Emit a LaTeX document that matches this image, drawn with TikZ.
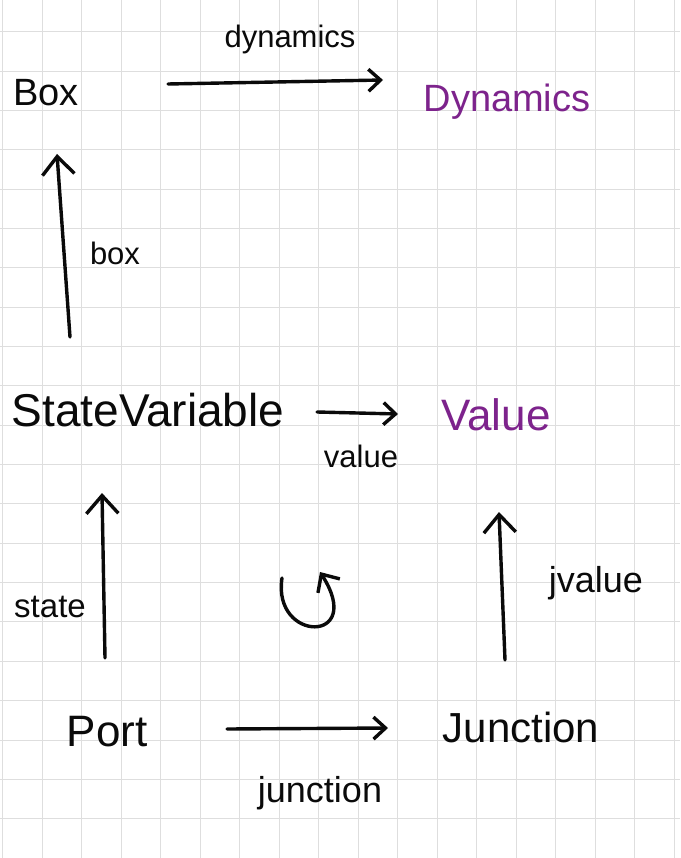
\documentclass[tikz,border=0pt]{standalone}
\usepackage{fontspec}
\setmainfont{Liberation Sans}
\usetikzlibrary{arrows.meta}
\definecolor{ink}{RGB}{10,10,10}
\definecolor{plum}{RGB}{125,35,140}
\definecolor{gridc}{RGB}{222,222,222}
\begin{document}
\begin{tikzpicture}[x=1pt,y=-1pt,
  lbl/.style={inner sep=0pt,anchor=base,text=ink},
  obj/.style={lbl,font=\fontsize{44}{48}\selectfont},
  mor/.style={lbl,font=\fontsize{31}{34}\selectfont},
  gridline/.style={draw=gridc,line width=1pt},
  varr/.style={draw=ink,line width=3.4pt,line cap=round,-{Straight Barb[length=18pt,width=32pt]}},
  harr/.style={draw=ink,line width=3.4pt,line cap=round,-{Straight Barb[length=12pt,width=22pt]}}]
\useasboundingbox (0,0) rectangle (680,858);
\fill[white] (0,0) rectangle (680,858);
\foreach \i in {0,...,17} \draw[gridline] ({2.8+39.5*\i},0) -- ({2.8+39.5*\i},858);
\foreach \j in {0,...,21} \draw[gridline] (0,{31.7+39.35*\j}) -- (680,{31.7+39.35*\j});

% objects
\node[obj,font=\fontsize{38}{40}\selectfont] (box) at (46,106) {Box};
\node[obj,font=\fontsize{38}{40}\selectfont,text=plum] (dyn) at (507,112) {Dynamics};
\node[obj,font=\fontsize{46}{50}\selectfont] (sv) at (148,426) {StateVariable};
\node[obj,text=plum] (val) at (496,430) {Value};
\node[obj] (port) at (107,746) {Port};
\node[obj,font=\fontsize{42}{46}\selectfont] (junc) at (521,742) {Junction};

% morphism labels
\node[mor] (ldyn) at (290,48) {dynamics};
\node[mor] (lbox) at (115,265) {box};
\node[mor] (lval) at (361,467) {value};
\node[mor,font=\fontsize{33}{36}\selectfont] (lstate) at (50,617) {state};
\node[mor,font=\fontsize{36}{40}\selectfont] (ljval) at (596,592) {jvalue};
\node[mor,font=\fontsize{36}{40}\selectfont] (ljunc) at (320,802) {junction};

% arrow end points
\coordinate (dynS) at (168,84);   \coordinate (dynE) at (383,80);
\coordinate (boxS) at (70,337);   \coordinate (boxE) at (57,154);
\coordinate (valS) at (317,412);  \coordinate (valE) at (398,414);
\coordinate (stS) at (105,658);   \coordinate (stE) at (102,493);
\coordinate (jvS) at (505,660);   \coordinate (jvE) at (499,512);
\coordinate (jnS) at (227,729);   \coordinate (jnE) at (388,728);
\coordinate (cS) at (282,578);    \coordinate (cE) at (320,572);

\draw[harr] (dynS) -- (dynE);
\draw[varr] (boxS) -- (boxE);
\draw[harr] (valS) -- (valE);
\draw[varr] (stS) -- (stE);
\draw[varr] (jvS) -- (jvE);
\draw[harr] (jnS) -- (jnE);
\draw[draw=ink,line width=3.4pt,line cap=round,-{Straight Barb[length=14pt,width=26pt]}]
  (cS) .. controls (272,643) and (366,644) .. (cE);
\end{tikzpicture}
\end{document}
